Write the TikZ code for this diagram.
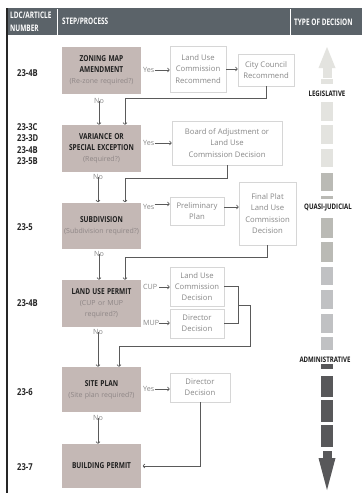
\documentclass[tikz,border=0pt]{standalone}
\usepackage{fontspec}
\setmainfont{Open Sans}
\newfontfamily\cond[FakeStretch=0.8]{Open Sans}
\newfontfamily\hcond[FakeStretch=0.72]{Open Sans}
\usetikzlibrary{arrows.meta,calc}
\definecolor{hdr}{HTML}{5B6369}
\definecolor{taupe}{HTML}{C4B8B5}
\definecolor{bord}{HTML}{D6D6D6}
\definecolor{gtxt}{HTML}{888888}
\definecolor{stxt}{HTML}{8E8686}
\definecolor{lncol}{HTML}{5A5A5A}
\definecolor{leg}{HTML}{E3E3DF}
\definecolor{qj}{HTML}{BABAB5}
\definecolor{qa}{HTML}{C0C1C3}
\definecolor{adm}{HTML}{58585A}
\newcommand\ttl[1]{{\cond\bfseries\fontsize{8.2}{11}\selectfont\color{black!88}#1}}
\newcommand\subt[1]{{\color{stxt}#1}}
\tikzset{
  taupebox/.style={fill=taupe, minimum width=79, minimum height=47, inner sep=0, align=center, text width=79, font=\fontsize{7}{11}\selectfont},
  whitebox/.style={draw=bord, line width=0.8pt, fill=white, align=center, inner sep=0, text=gtxt, font=\fontsize{7.7}{11.3}\selectfont},
  rowlbl/.style={anchor=west, inner sep=0, font=\cond\bfseries\fontsize{9.5}{12}\selectfont, text=black!85},
  hdrtxt/.style={inner sep=0, text=white, font=\hcond\bfseries\fontsize{9}{12}\selectfont, align=left},
  dlbl/.style={inner sep=0, font=\cond\bfseries\fontsize{7.6}{9}\selectfont, text=black!90},
  yn/.style={text=gtxt, font=\fontsize{7.2}{8}\selectfont, inner sep=0},
  arr/.style={draw=lncol, line width=0.7pt, -{To[length=2.4pt,width=4.5pt]}},
  conn/.style={draw=lncol, line width=0.7pt},
}
\begin{document}
\begin{tikzpicture}[x=1pt,y=-1pt]
\useasboundingbox (0,0) rectangle (362,493);
\fill[white] (0,0) rectangle (362,493);
% header
\fill[hdr] (7,8) rectangle (362,35);
\draw[white, line width=1pt] (57.5,9) -- (57.5,35);
\draw[white, line width=1pt] (290,9) -- (290,35);
\draw[black!85, line width=1.6pt] (7,8) -- (7,493);
\node[hdrtxt, anchor=west] (h1) at (10,15.5) {LDC/ARTICLE};
\node[hdrtxt, anchor=west] (h2) at (10,28.5) {NUMBER};
\node[hdrtxt, anchor=west] (h3) at (62,21.5) {STEP/PROCESS};
\node[hdrtxt, anchor=west] (h4) at (294,22) {TYPE OF DECISION};

% row labels
\node[rowlbl] (r1) at (17,73) {23-4B};
\node[rowlbl] (r2a) at (17,127) {23-3C};
\node[rowlbl] (r2b) at (17,138.5) {23-3D};
\node[rowlbl] (r2c) at (17,150) {23-4B};
\node[rowlbl] (r2d) at (17,161.5) {23-5B};
\node[rowlbl] (r3) at (17,227) {23-5};
\node[rowlbl] (r4) at (17,303) {23-4B};
\node[rowlbl] (r5) at (17,392) {23-6};
\node[rowlbl] (r6) at (17,467) {23-7};

% main step boxes
\node[taupebox] (zma) at (101.5,70.5) {\ttl{ZONING MAP}\\\ttl{AMENDMENT}\\\subt{(Re-zone required?)}};
\node[taupebox] (var) at (101.5,148.5) {\ttl{VARIANCE OR}\\\ttl{SPECIAL EXCEPTION}\\\subt{(Required?)}};
\node[taupebox, minimum height=46] (sub) at (101.5,225.5) {\ttl{SUBDIVISION}\\\subt{(Subdivision required?)}};
\node[taupebox] (lup) at (101.5,303.5) {\ttl{LAND USE PERMIT}\\\subt{(CUP or MUP}\\\subt{required?)}};
\node[taupebox, minimum height=45] (site) at (101.5,389.5) {\ttl{SITE PLAN}\\\subt{(Site plan required?)}};
\node[taupebox, minimum height=44] (bp) at (101.5,466) {\ttl{BUILDING PERMIT}};

% white boxes
\node[whitebox, minimum width=56, minimum height=46] (luc1) at (198,69) {Land Use\\Commission\\Recommend};
\node[whitebox, minimum width=56, minimum height=32] (cc) at (266,70) {City Council\\Recommend};
\node[whitebox, minimum width=110, minimum height=44] (board) at (227,143) {Board of Adjustment or\\Land Use\\Commission Decision};
\node[whitebox, minimum width=54, minimum height=28] (prelim) at (197,211) {Preliminary\\Plan};
\node[whitebox, minimum width=57, minimum height=63] (final) at (267.5,213.5) {Final Plat\\Land Use\\Commission\\Decision};
\node[whitebox, minimum width=54, minimum height=39] (lucd) at (197,286.5) {Land Use\\Commission\\Decision};
\node[whitebox, minimum width=54, minimum height=29] (dir1) at (197,323.5) {Director\\Decision};
\node[whitebox, minimum width=60, minimum height=29] (dir2) at (200,387.5) {Director\\Decision};

% yes / no labels
\node[yn, anchor=west] (y1) at (143,70) {Yes};
\node[yn, anchor=west] (y2) at (143,143) {Yes};
\node[yn, anchor=west] (y3) at (143,207) {Yes};
\node[yn, anchor=west] (cup) at (143,287) {CUP};
\node[yn, anchor=west] (mup) at (143,323) {MUP};
\node[yn, anchor=west] (y5) at (143,389) {Yes};
\node[yn] (n1) at (99,101) {No};
\node[yn] (n2) at (98,177) {No};
\node[yn] (n3) at (99,254) {No};
\node[yn] (n4) at (98,332) {No};
\node[yn] (n5) at (98,418) {No};

% yes arrows
\draw[arr] (y1.east) -- (y1.east -| luc1.west);
\draw[arr] (luc1.east) -- (cc.west |- luc1.east);
\draw[arr] (y2.east) -- (y2.east -| board.west);
\draw[arr] ([yshift=3pt]y3.east) -- ([yshift=3pt]y3.east -| prelim.west);
\draw[arr] ([yshift=4pt]prelim.east) -- ([yshift=4pt]prelim.east -| final.west);
\draw[arr] ([xshift=1.5pt]cup.east) -- (cup.east -| lucd.west);
\draw[arr] (mup.east) -- (mup.east -| dir1.west);
\draw[arr] (y5.east) -- (y5.east -| dir2.west);

% no arrows
\draw[arr] ([yshift=3pt]n1.south) -- (n1.south |- var.north);
\draw[arr] ([yshift=3pt]n2.south) -- (n2.south |- sub.north);
\draw[arr] ([yshift=3pt]n3.south) -- (n3.south |- lup.north);
\draw[arr] ([yshift=3pt]n4.south) -- (n4.south |- site.north);
\draw[arr] ([yshift=3pt]n5.south) -- (n5.south |- bp.north);

% return connectors
\draw[arr] (cc.south) -- (cc.south |- 0,98) -| ([xshift=23.5pt]var.north);
\draw[arr] (board.south) -- (board.south |- 0,178) -| ([xshift=23.5pt]sub.north);
\draw[arr] (final.south) -- (final.south |- 0,257) -| ([xshift=23.5pt]lup.north);
\draw[conn] (lucd.east) -- (238,286.5) -- (238,323.5) -- (dir1.east);
\coordinate (brk) at (238,305);
\draw[arr] (brk) -- (250,305) -- (250,346) -| ([xshift=17.5pt]site.north);
\draw[arr] (dir2.south) |- ([xshift=1.5pt]bp.east);

% decision scale
\fill[leg] (327,47) -- (335.5,68) -- (318.5,68) -- cycle;
\fill[leg] (322.5,67.5) rectangle (331.5,78);
\fill[leg] (321,79) rectangle (333,84);
\node[dlbl] (leglbl) at (327,94) {LEGISLATIVE};
\fill[leg] (321,102) rectangle (333,121);
\fill[leg] (321,125) rectangle (333,144);
\fill[leg] (321,149) rectangle (333,167);
\fill[qj] (321,173) rectangle (333,191);
\fill[qj] (321,196) rectangle (333,199);
\node[dlbl] (qjlbl) at (328,208) {QUASI-JUDICIAL};
\fill[qj] (321,218) rectangle (333,238);
\fill[qj] (321,242) rectangle (333,262);
\fill[qa] (321,267) rectangle (333,285);
\fill[qa] (321,290) rectangle (333,309);
\fill[qa] (321,314) rectangle (333,333);
\fill[qa] (321,337) rectangle (333,350);
\node[dlbl] (admlbl) at (325,360) {ADMINISTRATIVE};
\fill[adm] (321,364) rectangle (333,369);
\fill[adm] (321,376) rectangle (333,397);
\fill[adm] (321,400) rectangle (333,422);
\fill[adm] (321,425) rectangle (333,447);
\fill[adm] (322.5,451) rectangle (331.5,458.5);
\fill[adm] (318.5,458) -- (335.5,458) -- (327,490) -- cycle;
\end{tikzpicture}
\end{document}
